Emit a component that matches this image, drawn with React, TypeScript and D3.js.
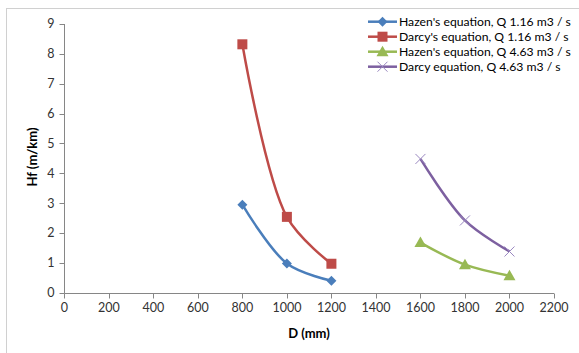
import React from "react";
import * as d3 from "d3";

const diameters1 = [800, 1000, 1200];
const diameters2 = [1600, 1800, 2000];
const hazen116 = [2.95, 0.98, 0.4];
const darcy116 = [8.32, 2.54, 0.97];
const hazen463 = [1.68, 0.94, 0.57];
const darcy463 = [4.48, 2.42, 1.38];
const seriesNames = [
  "Hazen's equation, Q 1.16 m3 / s",
  "Darcy's equation, Q 1.16 m3 / s",
  "Hazen's equation, Q 4.63 m3 / s",
  "Darcy equation, Q 4.63 m3 / s",
];
const seriesColors = ["#4A7EBB", "#BE4B48", "#98B954", "#7D60A0"];
const xTicks = d3.range(0, 2201, 200);
const yTicks = d3.range(0, 10, 1);

const W = 579;
const H = 353;
const FONT = "Lato, 'Open Sans', sans-serif";

function Marker({ kind, x, y, color }: { kind: number; x: number; y: number; color: string }) {
  if (kind === 0) {
    const s = 5;
    return <path d={`M${x},${y - s}L${x + s},${y}L${x},${y + s}L${x - s},${y}Z`} fill={color} />;
  }
  if (kind === 1) {
    return <rect x={x - 5} y={y - 5} width={10} height={10} fill={color} />;
  }
  if (kind === 2) {
    return <path d={`M${x},${y - 6}L${x + 6},${y + 4.5}L${x - 6},${y + 4.5}Z`} fill={color} />;
  }
  const s = 5;
  return (
    <path
      d={`M${x - s},${y - s}L${x + s},${y + s}M${x - s},${y + s}L${x + s},${y - s}`}
      stroke="#9A88C0"
      strokeWidth={1}
      fill="none"
    />
  );
}

export default function App() {
  const x = d3.scaleLinear().domain([0, 2200]).range([64.3, 554]);
  const y = d3.scaleLinear().domain([0, 9]).range([292.7, 24]);
  const series = [
    { xs: diameters1, ys: hazen116 },
    { xs: diameters1, ys: darcy116 },
    { xs: diameters2, ys: hazen463 },
    { xs: diameters2, ys: darcy463 },
  ];
  const line = d3
    .line<[number, number]>()
    .x((d) => x(d[0]))
    .y((d) => y(d[1]))
    .curve(d3.curveCatmullRom.alpha(0.5));

  const x0 = Math.round(x(0)) + 0.5;
  const y0 = Math.round(y(0)) + 0.5;

  return (
    <svg
      width={W}
      height={H}
      style={{ position: "absolute", left: 0, top: 0, background: "#fff" }}
      fontFamily={FONT}
    >
      <rect x={6.5} y={8.5} width={W} height={H} fill="#fff" stroke="#D0D0D0" strokeWidth={1} />
      {/* axes */}
      <line x1={x0} x2={x0} y1={y(9)} y2={y0} stroke="#868686" />
      <line x1={x0} x2={x(2200)} y1={y0} y2={y0} stroke="#868686" />
      {yTicks.map((t) => (
        <g key={"y" + t}>
          <line x1={x0 - 5} x2={x0} y1={Math.round(y(t)) + 0.5} y2={Math.round(y(t)) + 0.5} stroke="#868686" />
          <text x={x0 - 10} y={y(t)} dy="0.35em" textAnchor="end" fontSize={12.5} fill="#333">
            {t}
          </text>
        </g>
      ))}
      {xTicks.map((t) => (
        <g key={"x" + t}>
          <line x1={Math.round(x(t)) + 0.5} x2={Math.round(x(t)) + 0.5} y1={y0} y2={y0 + 5} stroke="#868686" />
          <text x={x(t)} y={y0 + 18} textAnchor="middle" fontSize={12.5} fill="#333">
            {t}
          </text>
        </g>
      ))}
      <text
        transform={`translate(37,157) rotate(-90)`}
        textAnchor="middle"
        fontSize={13}
        fontWeight="bold"
        fill="#000"
      >
        Hf (m/km)
      </text>
      <text x={309} y={338} textAnchor="middle" fontSize={13} fontWeight="bold" fill="#000">
        D (mm)
      </text>
      {/* series */}
      {series.map((s, i) => {
        const pts = s.xs.map((v, j) => [v, s.ys[j]] as [number, number]);
        return (
          <g key={"s" + i}>
            <path d={line(pts) || ""} fill="none" stroke={seriesColors[i]} strokeWidth={2.5} />
            {pts.map((p, j) => (
              <Marker key={j} kind={i} x={x(p[0])} y={y(p[1])} color={seriesColors[i]} />
            ))}
          </g>
        );
      })}
      {/* legend */}
      {seriesNames.map((n, i) => {
        const ly = 21.7 + i * 15;
        return (
          <g key={"l" + i}>
            <line x1={368} x2={397} y1={ly} y2={ly} stroke={seriesColors[i]} strokeWidth={2.5} />
            <Marker kind={i} x={382.5} y={ly} color={seriesColors[i]} />
            <text x={399} y={ly} dy="0.35em" fontSize={12.2} fill="#000">
              {n}
            </text>
          </g>
        );
      })}
    </svg>
  );
}
